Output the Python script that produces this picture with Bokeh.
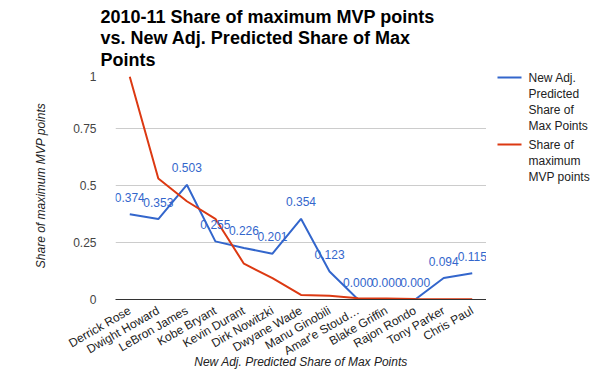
from bokeh.plotting import figure
from bokeh.models import Range1d, FactorRange, FixedTicker, ColumnDataSource
from bokeh.layouts import row, column
from bokeh.embed import file_html
from bokeh.resources import INLINE
from bokeh.core.properties import value
import math

players = ["Derrick Rose", "Dwight Howard", "LeBron James", "Kobe Bryant",
           "Kevin Durant", "Dirk Nowitzki", "Dwyane Wade", "Manu Ginobili",
           "Amar'e Stoud\u2026", "Blake Griffin", "Rajon Rondo", "Tony Parker",
           "Chris Paul"]
predicted = [0.374, 0.353, 0.503, 0.255, 0.226, 0.201, 0.354, 0.123,
             0.000, 0.000, 0.000, 0.094, 0.115]
actual = [0.977, 0.531, 0.431, 0.354, 0.157, 0.094, 0.020, 0.016,
          0.006, 0.004, 0.002, 0.001, 0.001]
y_ticks = [0, 0.25, 0.5, 0.75, 1]
y_tick_labels = ["0", "0.25", "0.5", "0.75", "1"]
title_lines = ["2010-11 Share of maximum MVP points",
               "vs. New Adj. Predicted Share of Max",
               "Points"]
legend_pred = ["New Adj.", "Predicted", "Share of", "Max Points"]
legend_act = ["Share of", "maximum", "MVP points"]

BLUE = "#3366cc"
RED = "#dc3912"
FONT = "Liberation Sans"
TOP = 71          # height of title band (px)
FRAME_W, FRAME_H = 371, 228
LEFT = 115
RIGHT_W = 600 - LEFT - FRAME_W


def bare_figure(w, h):
    f = figure(frame_width=w, frame_height=h, x_range=Range1d(0, w),
               y_range=Range1d(h, 0), x_axis_type=None, y_axis_type=None,
               min_border=0, output_backend="svg", toolbar_location=None,
               outline_line_color=None, border_fill_color="white",
               background_fill_color="white")
    f.title = None
    f.grid.visible = False
    return f


# ---- title band ----
tfig = bare_figure(600, TOP)
tfig.text(x=[100] * len(title_lines),
          y=[16 + 21.5 * i for i in range(len(title_lines))],
          text=title_lines, text_font=value(FONT), text_font_size="18px",
          text_font_style="bold", text_color="#000000",
          text_baseline="alphabetic", text_align="left")

# ---- main chart ----
p = figure(x_range=FactorRange(*players, range_padding=0),
           y_range=Range1d(0, 1),
           frame_width=FRAME_W, frame_height=FRAME_H,
           min_border_left=LEFT, min_border_right=0, min_border_top=0,
           min_border_bottom=0,
           output_backend="svg", toolbar_location=None,
           background_fill_color="white", border_fill_color="white",
           outline_line_color=None)
p.title = None

src = ColumnDataSource(dict(x=players, pred=predicted, act=actual,
                            lab=["%.3f" % v for v in predicted]))

p.line("x", "pred", source=src, line_color=BLUE, line_width=2)
p.line("x", "act", source=src, line_color=RED, line_width=2)
p.text("x", "pred", text="lab", source=src, text_align="center",
       text_baseline="alphabetic", y_offset=-17, text_color=BLUE,
       text_font=value(FONT), text_font_size="12px")

p.xgrid.grid_line_color = None
p.ygrid.grid_line_color = "#cccccc"
p.ygrid.ticker = FixedTicker(ticks=y_ticks)
p.yaxis.ticker = FixedTicker(ticks=y_ticks)
p.yaxis.major_label_overrides = {t: l for t, l in zip(y_ticks, y_tick_labels)}
p.yaxis.axis_line_color = None
p.yaxis.major_tick_line_color = None
p.yaxis.minor_tick_line_color = None
p.yaxis.major_label_standoff = 13
p.yaxis.major_label_text_font = FONT
p.yaxis.major_label_text_font_size = "12px"
p.yaxis.major_label_text_color = "#444444"
p.yaxis.axis_label = "Share of maximum MVP points"
p.yaxis.axis_label_text_font = FONT
p.yaxis.axis_label_text_font_size = "12px"
p.yaxis.axis_label_text_font_style = "italic"
p.yaxis.axis_label_text_color = "#222222"
p.yaxis.axis_label_standoff = 22

p.xaxis.axis_line_color = "#333333"
p.xaxis.axis_line_width = 1
p.xaxis.major_tick_line_color = None
p.xaxis.minor_tick_line_color = None
p.xaxis.major_label_orientation = math.pi / 6
p.xaxis.major_label_standoff = 4
p.xaxis.major_label_text_font = FONT
p.xaxis.major_label_text_font_size = "12px"
p.xaxis.major_label_text_color = "#222222"
p.xaxis.axis_label = "New Adj. Predicted Share of Max Points"
p.xaxis.axis_label_text_font = FONT
p.xaxis.axis_label_text_font_size = "12px"
p.xaxis.axis_label_text_font_style = "italic"
p.xaxis.axis_label_text_color = "#222222"
p.xaxis.axis_label_standoff = -12

# ---- legend panel (to the right of the plot frame) ----
lfig = bare_figure(RIGHT_W, FRAME_H)
groups = [(legend_pred, BLUE, 6), (legend_act, RED, 73)]
for labels, color, top in groups:
    lfig.segment(x0=[11], y0=[top], x1=[35], y1=[top], line_color=color,
                 line_width=2)
    lfig.text(x=[42] * len(labels), y=[top + 16 * i for i in range(len(labels))],
              text=labels, text_font=value(FONT), text_font_size="12px",
              text_color="#222222", text_baseline="middle", text_align="left")

layout = column(tfig, row(p, lfig), spacing=0)
open("out.html", "w").write(file_html(layout, INLINE))
